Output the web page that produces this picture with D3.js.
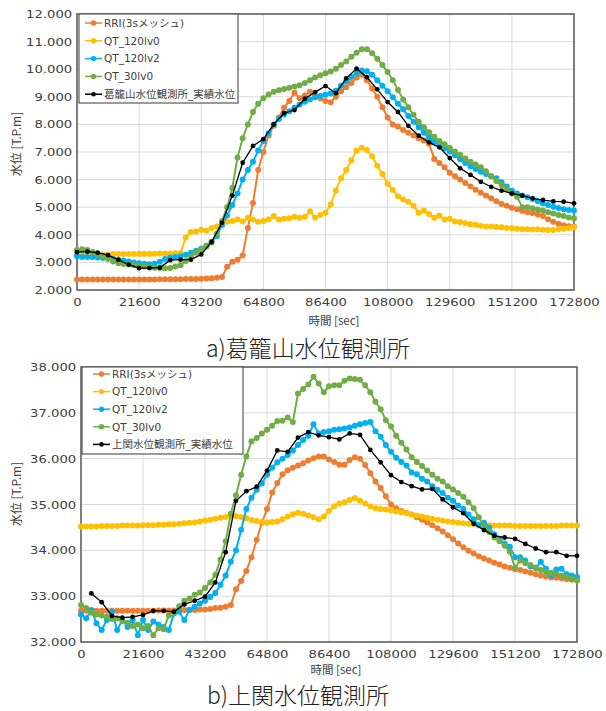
<!DOCTYPE html>
<html><head><meta charset="utf-8">
<script src="https://cdn.jsdelivr.net/npm/d3@7"></script>
<style>
html,body{margin:0;padding:0;background:#fff;}
svg{display:block;}
</style></head><body>
<svg id="fig" width="606" height="711"></svg>
<script>
// ---------------- data ----------------
const STEP = 1800;      // model output interval [sec]
const OBS_STEP = 3600;  // gauge record interval [sec]
const xTicks = [0, 21600, 43200, 64800, 86400, 108000, 129600, 151200, 172800];
const yTicksA = [2, 3, 4, 5, 6, 7, 8, 9, 10, 11, 12];
const yTicksB = [32, 33, 34, 35, 36, 37, 38];
const seriesNames = ["RRI(3sメッシュ)", "QT_120lv0", "QT_120lv2", "QT_30lv0"];
const seriesColors = ["#ED7D31", "#FFC000", "#00B0F0", "#70AD47"];
const obsNameA = "葛籠山水位観測所_実績水位";
const obsNameB = "上関水位観測所_実績水位";
const captionA = "a)葛籠山水位観測所";
const captionB = "b)上関水位観測所";

// a) 葛籠山 : simulated stage [T.P.m], every 1800 s from 0
const rriA = [
  2.38,2.38,2.38,2.38,2.38,2.38,2.38,2.38,2.38,2.38,
  2.38,2.38,2.38,2.38,2.38,2.38,2.39,2.39,2.39,2.39,
  2.39,2.40,2.40,2.40,2.41,2.42,2.43,2.44,2.47,2.84,
  3.02,3.10,3.25,4.25,5.15,6.35,7.00,7.60,7.95,8.25,
  8.60,8.85,9.15,8.95,9.05,9.18,9.05,8.95,8.85,8.80,
  9.00,9.20,9.35,9.50,9.70,9.80,9.60,9.30,9.00,8.62,
  8.25,8.00,7.92,7.80,7.70,7.60,7.50,7.42,7.30,6.75,
  6.60,6.45,6.25,6.12,6.00,5.88,5.75,5.63,5.52,5.42,
  5.32,5.22,5.12,5.05,4.98,4.93,4.86,4.82,4.79,4.74,
  4.68,4.56,4.47,4.40,4.35,4.31,4.29];
const q120A = [
  3.28,3.28,3.28,3.29,3.29,3.29,3.29,3.30,3.30,3.30,
  3.30,3.30,3.31,3.31,3.31,3.31,3.32,3.32,3.32,3.33,
  3.33,3.90,4.10,4.12,4.18,4.15,4.25,4.30,4.38,4.47,
  4.50,4.55,4.48,4.62,4.55,4.47,4.50,4.55,4.68,4.55,
  4.58,4.60,4.65,4.62,4.65,4.85,4.62,4.72,4.80,5.10,
  5.60,6.05,6.35,6.70,7.05,7.15,7.07,6.85,6.50,6.20,
  5.85,5.62,5.40,5.28,5.20,5.05,4.80,4.88,4.75,4.62,
  4.70,4.55,4.58,4.48,4.46,4.42,4.38,4.36,4.33,4.30,
  4.30,4.28,4.27,4.25,4.24,4.22,4.20,4.20,4.19,4.20,
  4.18,4.17,4.17,4.20,4.22,4.25,4.27];
const q120lv2A = [
  3.22,3.20,3.20,3.20,3.18,3.16,3.14,3.12,3.10,3.07,
  3.03,3.00,2.97,2.95,2.93,2.95,3.02,3.12,3.18,3.20,
  3.22,3.28,3.35,3.42,3.50,3.60,3.75,3.95,4.35,4.70,
  5.08,5.50,6.00,6.35,6.65,7.05,7.40,7.68,8.00,8.20,
  8.36,8.48,8.60,8.72,8.82,8.90,8.98,9.03,9.07,9.12,
  9.22,9.40,9.55,9.72,9.85,9.95,9.93,9.80,9.60,9.40,
  9.20,8.98,8.75,8.55,8.30,8.10,7.90,7.70,7.52,7.38,
  7.25,7.14,7.02,6.88,6.74,6.60,6.48,6.38,6.28,6.20,
  6.12,6.05,5.90,5.75,5.60,5.50,5.42,5.36,5.30,5.22,
  5.14,5.08,5.02,4.97,4.93,4.90,4.88];
const q30A = [
  3.45,3.48,3.45,3.38,3.30,3.22,3.12,3.03,2.97,2.94,
  2.92,2.90,2.88,2.85,2.83,2.81,2.80,2.79,2.80,2.85,
  2.90,3.05,3.20,3.35,3.48,3.58,3.72,4.05,4.50,5.00,
  5.70,6.80,7.50,8.00,8.45,8.75,8.95,9.08,9.18,9.24,
  9.28,9.33,9.37,9.42,9.50,9.60,9.70,9.78,9.85,9.92,
  10.02,10.15,10.28,10.45,10.60,10.72,10.72,10.58,10.38,10.15,
  9.90,9.60,9.25,8.90,8.62,8.35,8.10,7.90,7.72,7.55,
  7.40,7.28,7.15,7.02,6.90,6.76,6.65,6.55,6.45,6.30,
  6.12,5.95,5.80,5.65,5.50,5.38,5.00,5.00,4.96,4.92,
  4.88,4.82,4.77,4.72,4.68,4.63,4.60];
// a) observed stage, hourly from 0 s
const obsA = [
  3.37,3.39,3.35,3.26,3.09,2.92,2.79,2.79,2.81,3.08,
  3.10,3.10,3.29,3.74,4.43,5.42,6.61,7.22,7.47,8.00,
  8.41,8.52,8.93,9.17,9.39,9.13,9.67,10.02,9.71,9.27,
  8.81,8.45,7.95,7.59,7.35,7.17,6.78,6.41,6.17,5.92,
  5.74,5.60,5.50,5.42,5.32,5.26,5.21,5.20,5.14];

// b) 上関 : simulated stage [T.P.m], every 1800 s from 0
const rriB = [
  32.68,32.68,32.68,32.68,32.68,32.68,32.68,32.68,32.68,32.68,
  32.68,32.68,32.68,32.68,32.68,32.69,32.69,32.69,32.69,32.70,
  32.70,32.70,32.70,32.71,32.71,32.72,32.74,32.75,32.77,32.81,
  33.15,33.33,33.55,33.85,34.23,34.60,34.90,35.26,35.47,35.66,
  35.75,35.80,35.85,35.90,35.96,36.01,36.05,36.05,35.98,35.93,
  35.87,35.87,35.97,36.03,36.00,35.86,35.68,35.50,35.36,35.18,
  35.00,34.92,34.86,34.82,34.78,34.72,34.67,34.61,34.55,34.48,
  34.41,34.33,34.24,34.15,34.07,33.99,33.93,33.87,33.82,33.78,
  33.73,33.69,33.65,33.62,33.59,33.57,33.54,33.51,33.48,33.45,
  33.43,33.41,33.40,33.39,33.37,33.36,33.35];
const q120B = [
  34.52,34.52,34.52,34.52,34.53,34.53,34.53,34.53,34.54,34.54,
  34.54,34.54,34.55,34.55,34.55,34.56,34.56,34.57,34.57,34.58,
  34.59,34.60,34.61,34.63,34.65,34.67,34.69,34.71,34.73,34.75,
  34.75,34.73,34.70,34.66,34.64,34.62,34.61,34.62,34.63,34.68,
  34.74,34.79,34.82,34.80,34.76,34.72,34.68,34.74,34.86,34.96,
  35.02,35.05,35.10,35.14,35.08,35.02,34.96,34.92,34.90,34.89,
  34.87,34.85,34.83,34.81,34.78,34.76,34.74,34.71,34.69,34.67,
  34.65,34.63,34.62,34.60,34.59,34.58,34.57,34.56,34.55,34.55,
  34.54,34.54,34.54,34.54,34.53,34.53,34.53,34.53,34.53,34.53,
  34.53,34.53,34.53,34.54,34.54,34.54,34.54];
const q120lv2B = [
  32.60,32.52,32.70,32.41,32.26,32.48,32.66,32.26,32.48,32.33,
  32.48,32.15,32.48,32.26,32.45,32.38,32.33,32.26,32.62,32.66,
  32.48,32.70,32.77,32.84,32.90,32.98,33.07,33.25,33.45,33.75,
  34.00,34.45,34.90,35.15,35.32,35.46,35.65,35.80,35.92,36.00,
  36.08,36.18,36.30,36.41,36.50,36.75,36.55,36.58,36.60,36.63,
  36.64,36.66,36.68,36.72,36.75,36.78,36.80,36.60,36.48,36.30,
  36.15,36.02,35.93,35.85,35.70,35.66,35.56,35.50,35.40,35.32,
  35.25,35.15,35.08,34.98,34.90,34.78,34.68,34.55,34.60,34.50,
  34.35,34.25,34.15,34.08,33.85,33.85,33.78,33.65,33.62,33.75,
  33.60,33.45,33.58,33.60,33.48,33.45,33.42];
const q30B = [
  32.81,32.74,32.64,32.60,32.58,32.55,32.50,32.52,32.46,32.42,
  32.35,32.38,32.30,32.35,32.15,32.30,32.28,32.58,32.64,32.78,
  32.90,32.95,33.03,33.08,33.18,33.30,33.47,33.80,34.20,34.80,
  35.20,35.65,36.05,36.38,36.45,36.55,36.63,36.72,36.82,36.83,
  36.90,36.80,37.42,37.52,37.62,37.79,37.64,37.45,37.58,37.60,
  37.60,37.70,37.75,37.74,37.72,37.60,37.45,37.24,37.08,36.84,
  36.70,36.50,36.35,36.20,36.03,35.93,35.84,35.74,35.65,35.56,
  35.50,35.40,35.33,35.25,35.17,35.05,34.92,34.72,34.52,34.40,
  34.28,34.20,34.10,33.97,33.62,33.78,33.72,33.68,33.61,33.57,
  33.53,33.51,33.49,33.45,33.42,33.38,33.34];
// b) observed stage, hourly from 3600 s
const obsB = [
  33.06,32.87,32.57,32.53,32.55,32.59,32.68,32.68,32.66,32.82,
  32.90,32.99,33.30,33.96,35.08,35.29,35.39,35.74,36.18,36.15,
  36.46,36.58,36.51,36.47,36.42,36.55,36.52,36.19,35.92,35.64,
  35.49,35.40,35.33,35.34,35.11,34.94,34.81,34.58,34.44,34.32,
  34.28,34.25,34.14,34.04,33.96,33.96,33.88,33.88];

// ---------------- drawing ----------------
const LATIN = "'DejaVu Sans', Verdana, 'Noto Sans CJK JP', sans-serif";
const CJK = "'Noto Sans CJK JP', 'DejaVu Sans', sans-serif";
const TEXT = "#404040";
const svg = d3.select("#fig");
svg.append("rect").attr("width", 606).attr("height", 711).attr("fill", "#fff");

function drawPanel(o) {
  const g = svg.append("g");
  const x = d3.scaleLinear().domain([0, 172800]).range([o.left, o.right]);
  const y = d3.scaleLinear().domain(o.yDomain).range([o.bottom, o.top]);

  // gridlines
  g.append("g").selectAll("line").data(xTicks).join("line")
    .attr("x1", d => x(d)).attr("x2", d => x(d))
    .attr("y1", o.top).attr("y2", o.bottom)
    .attr("stroke", "#d9d9d9").attr("stroke-width", 1);
  g.append("g").selectAll("line").data(o.yTicks).join("line")
    .attr("x1", o.left).attr("x2", o.right)
    .attr("y1", d => y(d)).attr("y2", d => y(d))
    .attr("stroke", "#d9d9d9").attr("stroke-width", 1);

  // axes (labels only; frame drawn separately)
  const ay = g.append("g").attr("transform", `translate(${o.left},0)`)
    .call(d3.axisLeft(y).tickValues(o.yTicks).tickFormat(d3.format(".3f")).tickSize(0).tickPadding(4));
  ay.select(".domain").remove();
  ay.attr("font-family", LATIN).attr("font-size", 11);
  ay.selectAll("text").attr("fill", TEXT).attr("transform", "scale(1.2,1)");

  const ax = g.append("g").attr("transform", `translate(0,${o.bottom})`)
    .call(d3.axisBottom(x).tickValues(xTicks).tickFormat(d3.format("d")).tickSize(0).tickPadding(8));
  ax.select(".domain").remove();
  ax.attr("font-family", LATIN).attr("font-size", 11);
  ax.selectAll("text").attr("fill", TEXT).attr("transform", "scale(1.2,1)");

  // plot frame
  g.append("rect").attr("x", o.left).attr("y", o.top)
    .attr("width", o.right - o.left).attr("height", o.bottom - o.top)
    .attr("fill", "none").attr("stroke", "#595959").attr("stroke-width", 1.5);

  const line = d3.line().x(d => x(d[0])).y(d => y(d[1]));

  // simulated series
  o.series.forEach((vals, i) => {
    const pts = vals.map((v, k) => [k * STEP, v]);
    const s = g.append("g");
    s.append("path").attr("d", line(pts)).attr("fill", "none")
      .attr("stroke", seriesColors[i]).attr("stroke-width", 2);
    s.selectAll("circle").data(pts).join("circle")
      .attr("cx", d => x(d[0])).attr("cy", d => y(d[1])).attr("r", 3)
      .attr("fill", seriesColors[i]);
  });

  // observed series
  const opts = o.obs.map((v, k) => [(k + o.obsStart) * OBS_STEP, v]);
  const so = g.append("g");
  so.append("path").attr("d", line(opts)).attr("fill", "none")
    .attr("stroke", "#000").attr("stroke-width", 1.3);
  so.selectAll("circle").data(opts).join("circle")
    .attr("cx", d => x(d[0])).attr("cy", d => y(d[1])).attr("r", 2.4)
    .attr("fill", "#000");

  // axis titles
  g.append("text").attr("transform", `translate(${o.yTitleX},${o.yTitleY}) rotate(-90)`)
    .attr("text-anchor", "middle").attr("font-family", CJK).attr("font-size", 12)
    .attr("fill", TEXT).text("水位 [T.P.m]");
  g.append("text").attr("x", o.xTitleX).attr("y", o.xTitleY)
    .attr("text-anchor", "middle").attr("font-family", CJK).attr("font-size", 11.5)
    .attr("fill", TEXT).text("時間 [sec]");

  // legend
  const L = o.legend;
  const lg = g.append("g");
  lg.append("rect").attr("x", L.x).attr("y", L.y).attr("width", L.w).attr("height", L.h)
    .attr("fill", "#fff").attr("stroke", "#595959").attr("stroke-width", 1.2);
  const items = seriesNames.map((n, i) => ({ name: n, color: seriesColors[i], r: 2.7 }))
    .concat([{ name: o.obsName, color: "#000", r: 2.3 }]);
  const row = lg.selectAll("g").data(items).join("g")
    .attr("transform", (d, i) => `translate(0,${L.y0 + i * L.dy})`);
  row.append("line").attr("x1", L.sx0).attr("x2", L.sx1).attr("y1", 0).attr("y2", 0)
    .attr("stroke", d => d.color).attr("stroke-width", 1.5);
  row.append("circle").attr("cx", (L.sx0 + L.sx1) / 2).attr("cy", 0).attr("r", d => d.r)
    .attr("fill", d => d.color);
  row.append("text").attr("x", L.tx).attr("y", 0).attr("dy", "0.36em")
    .attr("font-family", LATIN).attr("font-size", 10.5).attr("fill", TEXT)
    .text(d => d.name);

  // caption
  g.append("text").attr("x", o.capX).attr("y", o.capY)
    .attr("font-family", CJK).attr("font-weight", 300).attr("font-size", 23)
    .attr("fill", "#222").text(o.caption);
}

drawPanel({
  left: 77, right: 574, top: 14, bottom: 290,
  yDomain: [2, 12], yTicks: yTicksA,
  series: [rriA, q120A, q120lv2A, q30A],
  obs: obsA, obsStart: 0, obsName: obsNameA,
  yTitleX: 21, yTitleY: 144, xTitleX: 334, xTitleY: 325,
  legend: { x: 79, y: 14, w: 159, h: 89, y0: 23, dy: 17.8, sx0: 85, sx1: 102, tx: 104 },
  caption: captionA, capX: 206, capY: 357
});

drawPanel({
  left: 81, right: 577, top: 367, bottom: 642,
  yDomain: [32, 38], yTicks: yTicksB,
  series: [rriB, q120B, q120lv2B, q30B],
  obs: obsB, obsStart: 1, obsName: obsNameB,
  yTitleX: 21, yTitleY: 494, xTitleX: 336, xTitleY: 674,
  legend: { x: 82, y: 367, w: 161, h: 87, y0: 374, dy: 17.6, sx0: 93, sx1: 110, tx: 112 },
  caption: captionB, capX: 207, capY: 704
});
</script>
</body></html>
